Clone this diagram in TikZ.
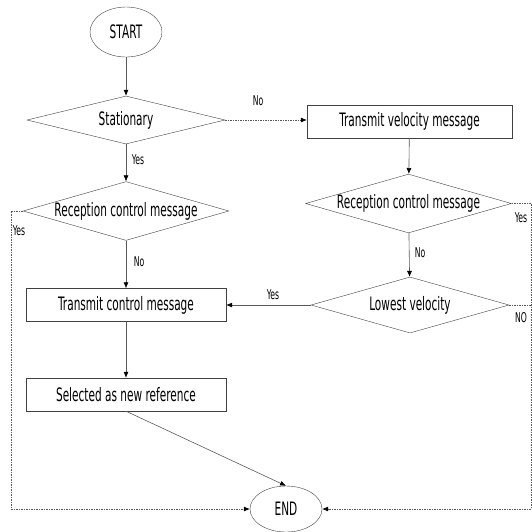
\documentclass[tikz,border=0pt]{standalone}
\usepackage{fontspec}
\setmainfont[FakeStretch=0.57]{DejaVu Sans}
\usetikzlibrary{shapes.geometric,arrows.meta}
\tikzset{
  term/.style={draw=black!75, ellipse, minimum width=72pt, minimum height=50pt, inner sep=0pt, font=\fontsize{18.5}{20}\selectfont},
  proc/.style={draw=black!75, rectangle, minimum width=200pt, minimum height=33pt, inner sep=0pt, font=\fontsize{18.5}{20}\selectfont},
  decide/.style={draw=black!75, diamond, aspect=3.5, minimum width=198pt, minimum height=56pt, inner sep=0pt, font=\fontsize{18.5}{20}\selectfont},
  lbl/.style={inner sep=0pt, font=\fontsize{13.5}{14}\selectfont},
  flow/.style={draw=black!65, line width=0.6pt, -{Latex[length=6pt,width=5pt,color=black]}},
  back/.style={flow, dash pattern=on 1.5pt off 1pt},
}

\begin{document}
\begin{tikzpicture}[x=1pt,y=-1pt]
		%%%%% START %%%%%
		\useasboundingbox (0,0) rectangle (532,531);
		
		\node[term] (start) at (126, 32) {START};
		\node[decide, minimum height=48pt] (stat) at (126, 120) {Stationary};
		\node[decide] (recL) at (126, 211) {Reception control message};
		\node[proc] (tcm) at (126, 305) {Transmit control message};
		\node[proc] (sel) at (126, 394.5) {Selected as new reference};
		\node[term, minimum height=46pt] (endn) at (286, 509) {END};
		
		\node[proc, minimum width=205pt] (tvm) at (409.5, 121.5) {Transmit velocity message};
		\node[decide] (recR) at (408.5, 203.5) {Reception control message};
		\node[decide] (low) at (410, 305) {Lowest velocity};
		
		\coordinate (ldash) at (11, 509);
		\coordinate (rdash) at (531, 509);
		
		\node[lbl] (l1) at (258, 101) {No};
		\node[lbl] (l2) at (138, 160) {Yes};
		\node[lbl] (l3) at (19, 231) {Yes};
		\node[lbl] (l4) at (139, 262) {No};
		\node[lbl] (l5) at (521, 218) {Yes};
		\node[lbl] (l6) at (420, 253) {No};
		\node[lbl] (l7) at (273, 295) {Yes};
		\node[lbl] (l8) at (521, 318) {NO};
		
		\draw[flow] (start) -- (stat);
		\draw[flow] (stat) -- (recL);
		\draw[back] (stat.east) -- (stat.east -| tvm.west);
		\draw[flow] (recL) -- (tcm);
		\draw[flow] (tcm) -- (sel);
		\draw[flow] (sel.south) -- (endn.north);
		\draw[flow] (tvm) -- (recR);
		\draw[flow] (recR) -- (low);
		\draw[flow] (low.west) -- (tcm.east);
		
		\draw[back] (recL.west) -| (ldash) -- (endn.west);
		\draw[back] (recR.east) -| (rdash) -- (endn.east);
		\draw[back, -] (low.east) -- (low.east -| rdash);
		%%%%% END %%%%%
	\end{tikzpicture}
\end{document}
